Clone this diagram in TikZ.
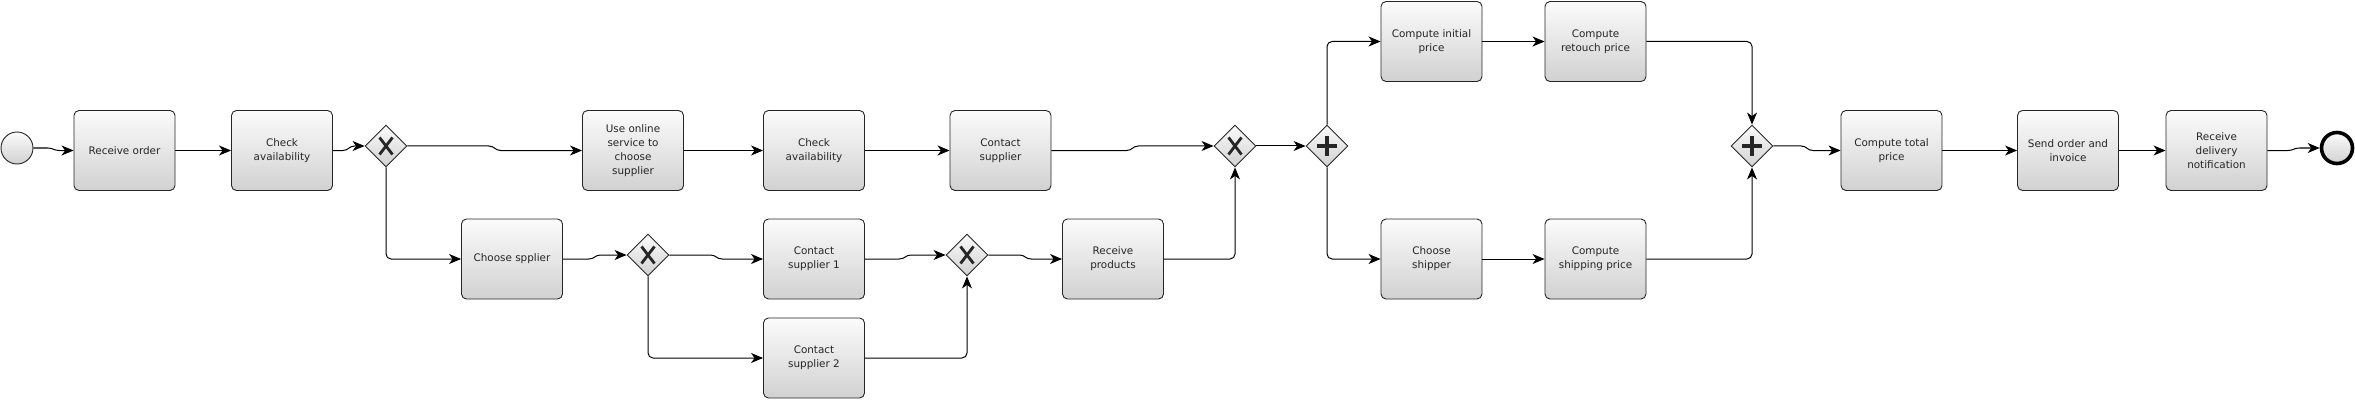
\documentclass[tikz,border=0pt]{standalone}
\usepackage{fontspec}
\setmainfont{DejaVu Sans}
\usetikzlibrary{shapes.geometric,arrows.meta,calc}
\begin{document}
\begin{tikzpicture}[x=1pt,y=-1pt,
  task/.style={draw=black!85, line width=0.9pt, rounded corners=5pt,
    top color=gray!3, bottom color=gray!36, minimum width=101pt, minimum height=80pt,
    inner sep=1pt, align=center, font=\fontsize{10.4}{13.8}\selectfont, text=black!85},
  gw/.style={diamond, draw=black!85, line width=0.9pt, top color=gray!3, bottom color=gray!36,
    minimum width=42pt, minimum height=42pt, inner sep=0pt},
  xgw/.style={gw, path picture={
    \draw[line width=2.8pt]
      ($(path picture bounding box.center)+(-6.5pt,-8.5pt)$) -- ($(path picture bounding box.center)+(6.5pt,8.5pt)$)
      ($(path picture bounding box.center)+(-6.5pt,8.5pt)$) -- ($(path picture bounding box.center)+(6.5pt,-8.5pt)$);}},
  pgw/.style={gw, path picture={
    \draw[line width=4.5pt]
      ($(path picture bounding box.center)+(-10pt,0pt)$) -- ($(path picture bounding box.center)+(10pt,0pt)$)
      ($(path picture bounding box.center)+(0pt,-10pt)$) -- ($(path picture bounding box.center)+(0pt,10pt)$);}},
  startev/.style={circle, draw=black!85, line width=0.9pt, top color=gray!3, bottom color=gray!36,
    minimum size=32pt, inner sep=0pt},
  endev/.style={circle, draw=black, line width=3.6pt, top color=gray!3, bottom color=gray!36,
    minimum size=31pt, inner sep=0pt},
  flow/.style={draw=black, line width=1pt, rounded corners=5pt,
    -{Stealth[length=12pt,width=10pt,inset=3.5pt]}},
  jog/.style={rounded corners=0pt, to path={let \p1=(\tikztostart), \p2=(\tikztotarget) in
    -- ({(\x1+\x2)/2-6pt},\y1) .. controls ({(\x1+\x2)/2},\y1) and ({(\x1+\x2)/2},\y2) .. ({(\x1+\x2)/2+6pt},\y2)
    -- (\tikztotarget) \tikztonodes}}
]
\useasboundingbox (0,0) rectangle (2355,401);

% events
\node[startev] (start) at (17,148) {};
\node[endev] (end) at (2337,148) {};

% tasks
\node[task] (ro) at (124.5,150.5) {Receive order};
\node[task] (ca) at (282,150.5) {Check\\availability};
\node[task] (uo) at (633,150.5) {Use online\\service to\\choose\\supplier};
\node[task] (ca2) at (814,150.5) {Check\\availability};
\node[task] (csup) at (1000.5,150.5) {Contact\\supplier};
\node[task] (cs) at (512,259) {Choose spplier};
\node[task] (c1) at (814,259) {Contact\\supplier 1};
\node[task] (c2) at (814,358) {Contact\\supplier 2};
\node[task] (rp) at (1113,259) {Receive\\products};
\node[task] (cip) at (1431.5,41.5) {Compute initial\\price};
\node[task] (crp) at (1595.5,41.5) {Compute\\retouch price};
\node[task] (csh) at (1431.5,259) {Choose\\shipper};
\node[task] (csp) at (1595.5,259) {Compute\\shipping price};
\node[task] (ctp) at (1891.5,150.5) {Compute total\\price};
\node[task] (soi) at (2068,150.5) {Send order and\\invoice};
\node[task] (rdn) at (2216.5,150.5) {Receive\\delivery\\notification};

% gateways
\node[xgw] (g1) at (386,146) {};
\node[xgw] (g2) at (648,255) {};
\node[xgw] (g3) at (967,255) {};
\node[xgw] (mx) at (1235,146) {};
\node[pgw] (pf) at (1327,146) {};
\node[pgw] (pj) at (1752,146) {};

% flows
\draw[flow] (start.east) to[jog] (ro.west);
\draw[flow] (ro.east) -- (ca.west);
\draw[flow] (ca.east) to[jog] (g1.west);
\draw[flow] (g1.east) to[jog] (uo.west);
\draw[flow] (g1.south) |- (cs.west);
\draw[flow] (uo.east) -- (ca2.west);
\draw[flow] (ca2.east) -- (csup.west);
\draw[flow] (csup.east) to[jog] (mx.west);
\draw[flow] (cs.east) to[jog] (g2.west);
\draw[flow] (g2.east) to[jog] (c1.west);
\draw[flow] (g2.south) |- (c2.west);
\draw[flow] (c1.east) to[jog] (g3.west);
\draw[flow] (c2.east) -| (g3.south);
\draw[flow] (g3.east) to[jog] (rp.west);
\draw[flow] (rp.east) -| (mx.south);
\draw[flow] (mx.east) -- (pf.west);
\draw[flow] (pf.north) |- (cip.west);
\draw[flow] (pf.south) |- (csh.west);
\draw[flow] (cip.east) -- (crp.west);
\draw[flow] (csh.east) -- (csp.west);
\draw[flow] (crp.east) -| (pj.north);
\draw[flow] (csp.east) -| (pj.south);
\draw[flow] (pj.east) to[jog] (ctp.west);
\draw[flow] (ctp.east) -- (soi.west);
\draw[flow] (soi.east) -- (rdn.west);
\draw[flow] (rdn.east) to[jog] (end.west);
\end{tikzpicture}
\end{document}
